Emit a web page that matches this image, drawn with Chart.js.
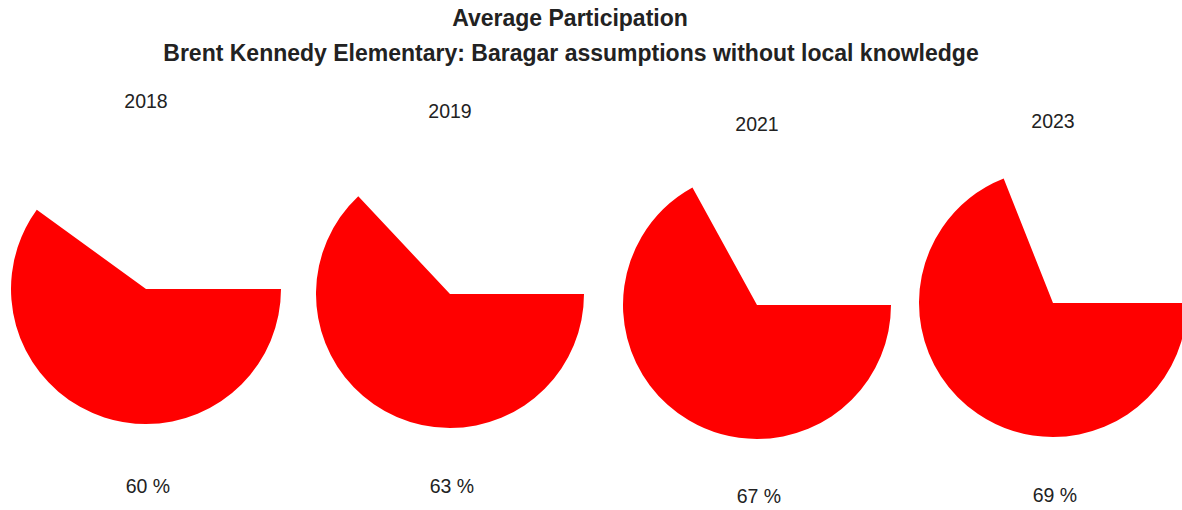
<!DOCTYPE html>
<html>
<head>
<meta charset="utf-8">
<title>Average Participation</title>
<script src="https://cdn.jsdelivr.net/npm/chart.js@4/dist/chart.umd.min.js"></script>
<style>
  html, body { margin: 0; padding: 0; background: #ffffff; }
  body { width: 1182px; height: 510px; overflow: hidden; position: relative;
         font-family: "Liberation Sans", Arial, sans-serif; color: #222222; }
  .txt { position: absolute; white-space: nowrap; line-height: 1; text-align: center; }
  .head { font-weight: bold; font-size: 23px; left: 0; width: 1182px; }
  .lab { font-size: 19.5px; width: 200px; }
  canvas.pie { position: absolute; }
</style>
</head>
<body>
<div class="txt head" id="title" style="left:-21px; top:7px;">Average Participation</div>
<div class="txt head" id="subtitle" style="left:-20px; top:42px;">Brent Kennedy Elementary: Baragar assumptions without local knowledge</div>

<script>
// Survey years and the average participation share for each (percent)
const years = ['2018', '2019', '2021', '2023'];
const participation = [60, 63, 67, 69];

// Placement of each pie: centre x, centre y, radius (px)
const pieCentreX = [146, 450, 757, 1053];
const pieCentreY = [289, 294, 305, 303];
const pieRadius  = [135, 134, 134, 134];
// Vertical position (text centre) of the year caption and the value caption
const yearCaptionY  = [102, 112, 125, 122];
const valueCaptionY = [487, 487, 497, 496];

function addCaption(text, cx, cy) {
  const d = document.createElement('div');
  d.className = 'txt lab';
  d.textContent = text;
  d.style.left = (cx - 100) + 'px';
  d.style.top = (cy - 0.4885 * 19.5) + 'px';
  document.body.appendChild(d);
}

years.forEach((year, i) => {
  const r = pieRadius[i];
  const cv = document.createElement('canvas');
  cv.className = 'pie';
  cv.width = 2 * r;
  cv.height = 2 * r;
  cv.style.left = (pieCentreX[i] - r) + 'px';
  cv.style.top = (pieCentreY[i] - r) + 'px';
  document.body.appendChild(cv);

  new Chart(cv, {
    type: 'pie',
    data: {
      labels: ['Participating', 'Not participating'],
      datasets: [{
        data: [participation[i], 100 - participation[i]],
        backgroundColor: ['#FF0000', 'rgba(0,0,0,0)'],
        borderWidth: 0,
        hoverOffset: 0,
        offset: 0
      }]
    },
    options: {
      responsive: false,
      animation: false,
      events: [],
      rotation: 90,
      layout: { padding: 0 },
      plugins: { legend: { display: false }, tooltip: { enabled: false } }
    }
  });

  addCaption(year, pieCentreX[i], yearCaptionY[i]);
  addCaption(participation[i] + ' %', pieCentreX[i] + 2, valueCaptionY[i]);
});
</script>
</body>
</html>
